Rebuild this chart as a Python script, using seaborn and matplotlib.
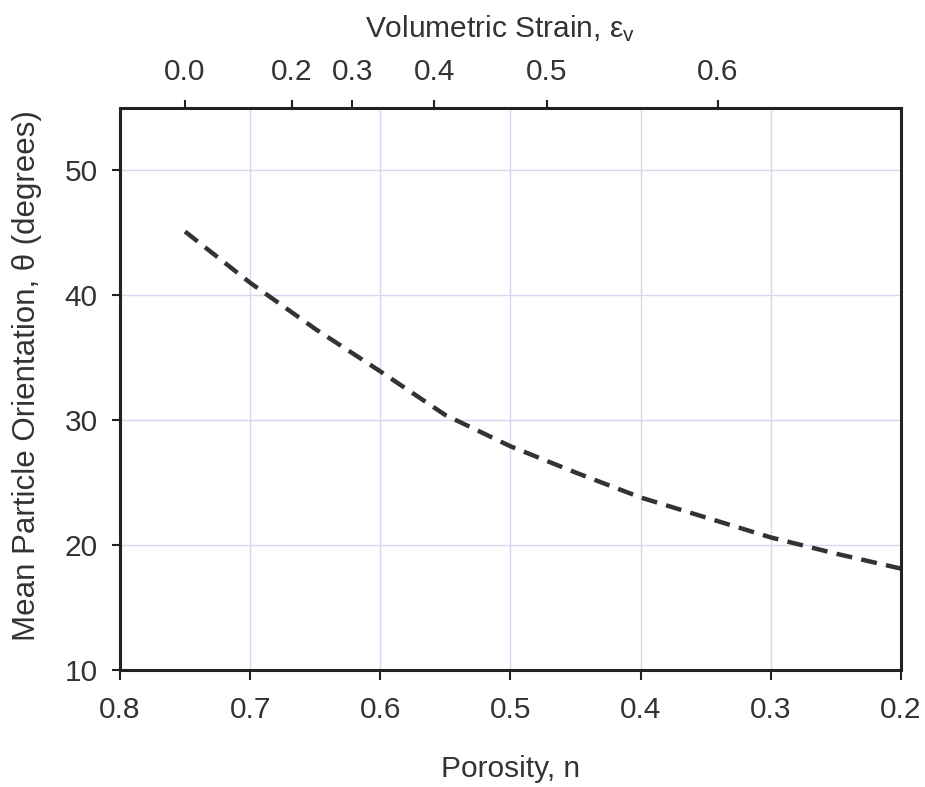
import matplotlib
matplotlib.use("Agg")
import matplotlib.pyplot as plt
import seaborn as sns
import pandas as pd

# Mean particle orientation versus porosity
porosity = [0.75, 0.70, 0.65, 0.60, 0.55, 0.50, 0.45, 0.40, 0.35, 0.30, 0.25, 0.20]
orientation = [45.1, 41.0, 37.3, 33.9, 30.4, 27.9, 25.8, 23.8, 22.2, 20.6, 19.3, 18.1]

# Bottom axis ticks (porosity)
porosity_ticks = [0.8, 0.7, 0.6, 0.5, 0.4, 0.3, 0.2]
porosity_labels = ["0.8", "0.7", "0.6", "0.5", "0.4", "0.3", "0.2"]

# Left axis ticks (orientation)
orientation_ticks = [10, 20, 30, 40, 50]

# Top axis: volumetric strain labels placed at their porosity positions
strain_positions = [0.750, 0.668, 0.6216, 0.5586, 0.4723, 0.3405]
strain_labels = ["0.0", "0.2", "0.3", "0.4", "0.5", "0.6"]

sns.set_theme(style="white")
plt.rcParams["font.family"] = ["Liberation Sans", "DejaVu Sans"]
plt.rcParams["mathtext.fontset"] = "custom"
plt.rcParams["mathtext.rm"] = "Liberation Sans"
plt.rcParams["mathtext.it"] = "Liberation Sans"

df = pd.DataFrame({"porosity": porosity, "orientation": orientation})

fig = plt.figure(figsize=(9.25, 7.87), dpi=100)
ax = fig.add_axes([0.1297, 0.149, 0.8443, 0.7138])

sns.lineplot(data=df, x="porosity", y="orientation", ax=ax, color="#333333",
             linewidth=3.2, linestyle=(0, (3.6, 2.1)), sort=False)

ax.set_xlim(0.8, 0.2)
ax.set_ylim(10, 55)
ax.set_xticks(porosity_ticks)
ax.set_xticklabels(porosity_labels)
ax.set_yticks(orientation_ticks)

grid_color = "#d6d6ec"
ax.grid(True, color=grid_color, linewidth=1.0)
ax.set_axisbelow(True)

for side in ["left", "bottom", "top", "right"]:
    ax.spines[side].set_visible(True)
    ax.spines[side].set_color("#222222")
    ax.spines[side].set_linewidth(2.2)

label_color = "#333333"
fs = 21.5
ax.tick_params(axis="x", which="major", direction="out", length=7, width=1.5,
               color="#222222", labelsize=fs, labelcolor=label_color, pad=12,
               bottom=True)
ax.tick_params(axis="y", which="major", direction="out", length=6, width=1.5,
               color="#222222", labelsize=fs, labelcolor=label_color, pad=10,
               left=True)

ax.set_xlabel("Porosity, n", fontsize=fs, color=label_color, labelpad=22)
ax.set_ylabel("Mean Particle Orientation, θ (degrees)", fontsize=22.5,
              color=label_color)
# y label sits left of the tick labels, slightly above the axes centre
ax.yaxis.set_label_coords(-0.100, 0.524)

top = ax.twiny()
top.set_xlim(ax.get_xlim())
top.set_xticks(strain_positions)
top.set_xticklabels(strain_labels)
top.tick_params(axis="x", which="major", direction="out", length=6, width=1.5,
                color="#222222", labelsize=fs, labelcolor=label_color, pad=10,
                top=True)
top.grid(False)
for side in ["left", "bottom", "top", "right"]:
    top.spines[side].set_visible(False)
top.set_xlabel("Volumetric Strain, ε$_\\mathregular{v}$", fontsize=fs,
               color=label_color)
top.xaxis.label.set_verticalalignment("bottom")
top.xaxis.set_label_coords(0.487, 1.0 + 64 / 561)

fig.savefig("out.png", dpi=100, facecolor="white")
